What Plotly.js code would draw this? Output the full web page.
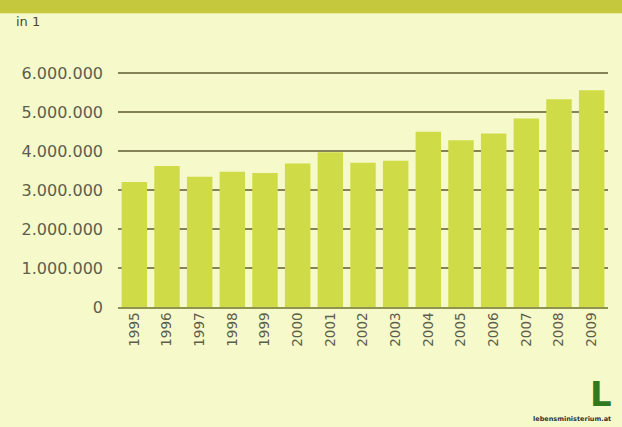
<!DOCTYPE html>
<html>
<head>
<meta charset="utf-8">
<script src="https://cdn.plot.ly/plotly-3.0.1.min.js"></script>
<style>
html,body{margin:0;padding:0;background:#f6f9c9;}
#chart{width:622px;height:427px;}
</style>
</head>
<body>
<div id="chart"></div>
<script>
const years = ["1995","1996","1997","1998","1999","2000","2001","2002","2003","2004","2005","2006","2007","2008","2009"];
const values = [3210000,3620000,3340000,3470000,3440000,3680000,3970000,3700000,3750000,4500000,4280000,4450000,4840000,5330000,5560000];
const tickVals = [0,1000000,2000000,3000000,4000000,5000000,6000000];
const tickText = ["0","1.000.000","2.000.000","3.000.000","4.000.000","5.000.000","6.000.000"];

const trace = {
  type: "bar",
  x: years,
  y: values,
  marker: {color: "#cfdc48", line: {width: 0}},
  hoverinfo: "skip"
};

const layout = {
  width: 622, height: 427,
  paper_bgcolor: "#f6f9c9",
  plot_bgcolor: "#f6f9c9",
  margin: {l: 118, r: 14, t: 72, b: 120},
  bargap: 0.22,
  showlegend: false,
  font: {family: "DejaVu Sans, sans-serif", color: "#5e5e4c"},
  xaxis: {
    type: "category",
    tickangle: -90,
    tickfont: {size: 13.5, color: "#5e5e4c"},
    showgrid: false,
    showline: true,
    linecolor: "#8f9350",
    linewidth: 2,
    ticks: "",
    ticklabelstandoff: -2
  },
  yaxis: {
    range: [0, 6030000],
    tickvals: tickVals,
    ticktext: tickText,
    tickfont: {size: 16, color: "#5e5e4c"},
    showgrid: true,
    gridcolor: "#858257",
    gridwidth: 1.5,
    zeroline: false,
    showline: false,
    ticks: "",
    ticklabelstandoff: 14
  },
  shapes: [
    {type: "rect", xref: "paper", yref: "paper", x0: -0.3, x1: 1.1, y0: 1.25, y1: 1.4,
     fillcolor: "#c5c83c", line: {width: 0}, layer: "below"}
  ],
  annotations: [
    {text: "in 1", xref: "paper", yref: "paper", x: -0.212, y: 1.215, xanchor: "left", yanchor: "middle",
     showarrow: false, font: {size: 13, color: "#4a4a3a", family: "DejaVu Sans, sans-serif"}},
    {text: "<b>L</b>", xref: "paper", yref: "paper", x: 0.985, y: -0.37, xanchor: "center", yanchor: "middle",
     showarrow: false, font: {size: 34, color: "#2f7a1e", family: "DejaVu Sans, sans-serif"}},
    {text: "<b>lebensministerium.at</b>", xref: "paper", yref: "paper", x: 1.01, y: -0.475, xanchor: "right", yanchor: "middle",
     showarrow: false, font: {size: 6.5, color: "#333333", family: "DejaVu Sans, sans-serif"}}
  ]
};

Plotly.newPlot("chart", [trace], layout, {displayModeBar: false, staticPlot: true});
</script>
</body>
</html>
